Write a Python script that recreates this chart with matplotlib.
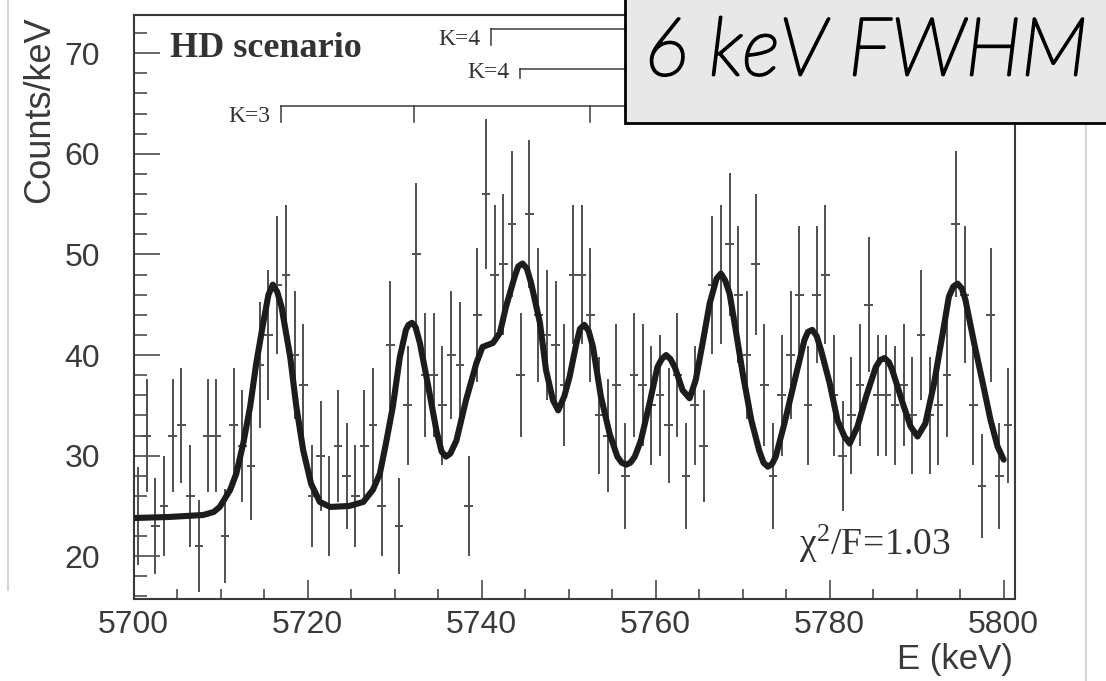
import matplotlib
matplotlib.use("Agg")
import matplotlib.pyplot as plt
import matplotlib.patheffects as pe
import numpy as np
from matplotlib.patches import Rectangle
from matplotlib.lines import Line2D
from matplotlib.ticker import MultipleLocator

# histogram: 1 keV bins starting at 5700 keV
bin_lo = 5700
counts = [24, 32, 23, 25, 32, 33, 26, 21, 32, 32,
          22, 33, 31, 29, 39, 42, 47, 48, 40, 37,
          26, 30, 25, 31, 28, 26, 31, 33, 25, 41,
          23, 35, 50, 38, 38, 35, 40, 39, 25, 44,
          56, 48, 49, 53, 38, 54, 44, 42, 41, 37,
          48, 48, 44, 34, 32, 37, 28, 38, 37, 35,
          36, 33, 38, 28, 35, 31, 47, 48, 51, 46,
          40, 49, 37, 28, 36, 40, 46, 35, 46, 48,
          36, 30, 34, 37, 45, 36, 36, 35, 37, 34,
          42, 34, 35, 38, 53, 46, 35, 27, 44, 28, 33]

# fit curve
fit_e = [5700.0, 5704.0, 5708.0, 5709.2, 5709.9, 5711.1, 5711.8, 5712.6, 5713.4, 5714.1,
         5714.9, 5715.5, 5716.0, 5716.5, 5717.0, 5718.0, 5718.7, 5719.5, 5720.4, 5721.4,
         5722.6, 5724.8, 5726.4, 5727.5, 5728.3, 5729.0, 5729.8, 5730.6, 5731.3, 5731.6,
         5732.0, 5732.4, 5732.9, 5733.8, 5734.8, 5735.4, 5735.9, 5736.4, 5737.1, 5738.2,
         5739.4, 5740.1, 5741.3, 5742.1, 5742.8, 5743.8, 5744.2, 5744.7, 5745.2, 5745.7,
         5746.7, 5747.4, 5748.2, 5748.8, 5749.5, 5750.1, 5750.9, 5751.3, 5751.8, 5752.3,
         5752.8, 5753.7, 5754.7, 5755.6, 5756.1, 5756.6, 5757.1, 5757.6, 5758.3, 5759.3,
         5760.2, 5760.7, 5761.2, 5761.7, 5762.2, 5763.1, 5763.9, 5764.6, 5765.4, 5766.2,
         5767.0, 5767.5, 5768.0, 5768.5, 5769.2, 5770.0, 5771.0, 5771.9, 5772.4, 5772.9,
         5773.4, 5773.8, 5774.8, 5775.9, 5777.1, 5777.5, 5778.0, 5778.5, 5779.0, 5780.0,
         5780.9, 5781.7, 5782.3, 5783.2, 5784.2, 5785.3, 5785.8, 5786.3, 5786.8, 5787.2,
         5788.4, 5789.3, 5790.1, 5791.0, 5792.0, 5793.0, 5793.7, 5794.2, 5794.7, 5795.2,
         5795.6, 5796.6, 5797.6, 5798.5, 5799.3, 5800.0]
fit_y = [23.8, 23.9, 24.1, 24.4, 24.9, 26.6, 28.2, 31.2, 34.9, 39.2,
         43.2, 46.0, 47.0, 46.3, 44.8, 39.8, 34.9, 30.5, 27.2, 25.4,
         24.9, 25.0, 25.4, 26.6, 28.2, 31.2, 34.9, 39.8, 42.5, 43.0,
         43.2, 42.8, 41.2, 37.2, 32.5, 30.4, 29.9, 30.2, 31.5, 35.5,
         39.2, 40.8, 41.2, 42.2, 44.8, 47.8, 48.8, 49.1, 48.6, 47.1,
         43.2, 38.5, 35.5, 34.5, 35.9, 37.8, 41.2, 42.6, 43.0, 42.4,
         40.8, 35.9, 32.2, 29.9, 29.3, 29.1, 29.3, 29.9, 31.5, 35.2,
         38.8, 39.6, 40.0, 39.6, 38.8, 36.5, 35.7, 37.5, 41.2, 45.1,
         47.6, 48.1, 47.4, 46.1, 42.5, 38.2, 33.5, 30.5, 29.3, 28.9,
         29.2, 29.9, 33.2, 37.2, 41.5, 42.3, 42.5, 41.9, 40.5, 37.2,
         33.5, 31.9, 31.2, 32.9, 35.9, 38.8, 39.5, 39.7, 39.3, 38.5,
         35.2, 32.9, 31.9, 33.2, 37.2, 42.2, 45.8, 46.8, 47.1, 46.6,
         45.5, 41.2, 37.2, 33.5, 30.9, 29.6]

# band markers: tick energies
k3_ticks = [5716.9, 5732.2, 5752.4]
k4a_ticks = [5741.1]
k4b_ticks = [5744.4]

plt.rcParams["mathtext.fontset"] = "custom"
plt.rcParams["mathtext.rm"] = "Liberation Serif"
plt.rcParams["mathtext.it"] = "Liberation Serif:italic"

counts = np.array(counts)
centers = bin_lo + 0.5 + np.arange(len(counts))

fig = plt.figure(figsize=(11.06, 6.81), dpi=100)
ax = fig.add_axes([133.6/1106, 1-599/681, (1015-133.6)/1106, (599-15)/681])

ink = "#3a3a3a"
ax.errorbar(centers, counts, yerr=np.sqrt(counts), xerr=0.5, fmt="none",
            ecolor="#505050", elinewidth=1.4, capsize=0, zorder=2)
ax.plot(fit_e, fit_y, color="#1c1c1c", lw=4.4, solid_capstyle="round",
        solid_joinstyle="round", zorder=3)

ax.set_xlim(5700, 5801.3)
ax.set_ylim(15.75, 73.8)
ax.xaxis.set_major_locator(MultipleLocator(20))
ax.xaxis.set_minor_locator(MultipleLocator(5))
ax.yaxis.set_major_locator(MultipleLocator(10))
ax.yaxis.set_minor_locator(MultipleLocator(2))
ax.tick_params(axis="x", which="major", direction="in", length=13.5, width=1.1,
               color=ink, labelsize=23, labelcolor=ink, pad=8)
ax.tick_params(axis="x", which="minor", direction="in", length=7.5, width=1.1, color=ink)
ax.tick_params(axis="y", which="major", direction="in", length=18.5, width=1.1,
               color=ink, labelsize=23, labelcolor=ink, pad=24)
ax.tick_params(axis="y", which="minor", direction="in", length=9.5, width=1.1, color=ink)
for lab in ax.get_xticklabels() + ax.get_yticklabels():
    lab.set_fontfamily("Liberation Sans")
for s in ax.spines.values():
    s.set_color(ink)
    s.set_linewidth(1.5)

fig.text(40/1106, 1-110/681, "Counts/keV", rotation=90, ha="center", va="center",
         fontsize=26, color=ink, family="Liberation Sans")
fig.text(1013/1106, 1-676/681, "E (keV)", ha="right", va="bottom",
         fontsize=25, color=ink, family="Liberation Sans")

serif = "Liberation Serif"
ax.text(5704.2, 69.65, "HD scenario", fontsize=26, fontweight="bold",
        family=serif, color="#333333", va="baseline")

def band(label, ticks, level, tick_len=1.6):
    x0 = ticks[0]
    ax.plot([x0, 5830], [level, level], color=ink, lw=1.1, clip_on=False, zorder=4)
    for t in ticks:
        ax.plot([t, t], [level, level - tick_len], color=ink, lw=1.1, zorder=4)
    ax.text(x0 - 1.2, level - tick_len, label, ha="right", va="baseline",
            fontsize=17, family=serif, color="#333333")

band("K=4", k4a_ticks, 72.4)
band("K=4", k4b_ticks, 68.4, tick_len=0.9)
band("K=3", k3_ticks, 64.8)

ax.text(5776.5, 20.1, r"$\mathrm{\chi}^{2}\mathrm{/F\!=\!1.03}$", fontsize=27,
        color="#333333", va="baseline")

# overlay box
fig.patches.append(Rectangle((625/1106, 1-123/681), 0.5, 0.3, transform=fig.transFigure,
                             facecolor="#e8e8e8", edgecolor="black", lw=2.0, zorder=10))
fig.text(866/1106, 1-53/681, "6 keV FWHM", ha="center", va="center", fontsize=58,
         family="Lato", style="italic", fontweight="light", color="#000000", zorder=11,
         path_effects=[pe.withStroke(linewidth=2.0, foreground="#000000")])

# screenshot borders
fig.add_artist(Line2D([8/1106, 8/1106], [1-590/681, 1], transform=fig.transFigure,
                      color="#d6d6d6", lw=1.5))
fig.add_artist(Line2D([1086/1106, 1086/1106], [0, 1], transform=fig.transFigure,
                      color="#d6d6d6", lw=1.5))

fig.savefig("out.png", dpi=100)
